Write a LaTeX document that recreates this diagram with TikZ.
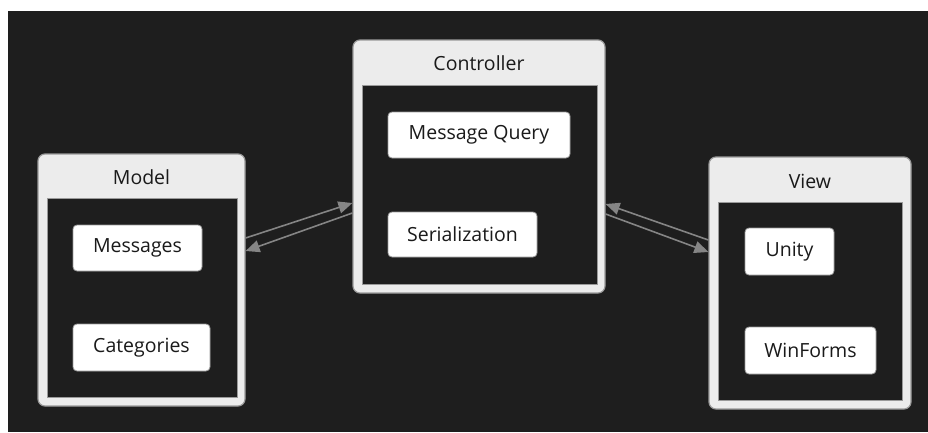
\documentclass[tikz,border=0pt]{standalone}
\usepackage{fontspec}
\setmainfont{Open Sans}
\usetikzlibrary{arrows.meta}
\definecolor{bgdark}{HTML}{1E1E1E}
\definecolor{panel}{HTML}{ECECEC}
\definecolor{edge}{HTML}{9A9A9A}
\definecolor{arrowgray}{HTML}{858585}
\definecolor{ink}{HTML}{1A1A1A}
\tikzset{
  outerbox/.style={draw=edge, line width=1.2pt, fill=panel, rounded corners=7pt, inner sep=0pt},
  innerbox/.style={draw=edge, line width=1pt, fill=bgdark, inner sep=0pt},
  itembox/.style={draw=edge, line width=0.8pt, fill=white, rounded corners=4pt, inner sep=0pt,
    font=\fontsize{19.5pt}{21pt}\selectfont, text=ink},
  titletext/.style={font=\fontsize{19.5pt}{21pt}\selectfont, text=ink, inner sep=0pt},
  flow/.style={draw=arrowgray, line width=1.6pt, -{Triangle[length=14pt,width=12pt]}}
}
\begin{document}
\begin{tikzpicture}[x=1pt,y=-1pt]
\useasboundingbox (0,0) rectangle (928,432);
\fill[white] (0,0) rectangle (928,432);
\fill[bgdark] (8,11) rectangle (928,432);
% Model
\node[outerbox, minimum width=207pt, minimum height=252pt] (model) at (141.5,280) {};
\node[titletext] (modelT) at (141.5,177) {Model};
\node[innerbox, minimum width=190pt, minimum height=199pt] (modelI) at (142,297.5) {};
\node[itembox, minimum width=129pt, minimum height=46pt] (msgs) at (137.5,248) {Messages};
\node[itembox, minimum width=137pt, minimum height=47pt] (cats) at (141.5,347.5) {Categories};
% Controller
\node[outerbox, minimum width=252pt, minimum height=253pt] (ctrl) at (479,166.5) {};
\node[titletext] (ctrlT) at (479,63) {Controller};
\node[innerbox, minimum width=235pt, minimum height=199pt] (ctrlI) at (479.5,184.5) {};
\node[itembox, minimum width=182pt, minimum height=46pt] (mq) at (479,135) {Message Query};
\node[itembox, minimum width=149pt, minimum height=45pt] (ser) at (462.5,234.5) {Serialization};
% View
\node[outerbox, minimum width=202pt, minimum height=252pt] (view) at (810,283) {};
\node[titletext] (viewT) at (810,181) {View};
\node[innerbox, minimum width=184pt, minimum height=198pt] (viewI) at (810,301) {};
\node[itembox, minimum width=89pt, minimum height=47pt] (unity) at (789.5,251.5) {Unity};
\node[itembox, minimum width=131pt, minimum height=47pt] (winf) at (810.5,350.5) {WinForms};
% Arrows
\draw[flow] ([yshift=42pt]model.east) -- ([yshift=-36.5pt]ctrl.west);
\draw[flow] ([yshift=-46.5pt]ctrl.west) -- ([yshift=29pt]model.east);
\draw[flow] ([yshift=-47.5pt]ctrl.east) -- ([yshift=31pt]view.west);
\draw[flow] ([yshift=43pt]view.west) -- ([yshift=-37.5pt]ctrl.east);
\end{tikzpicture}
\end{document}
